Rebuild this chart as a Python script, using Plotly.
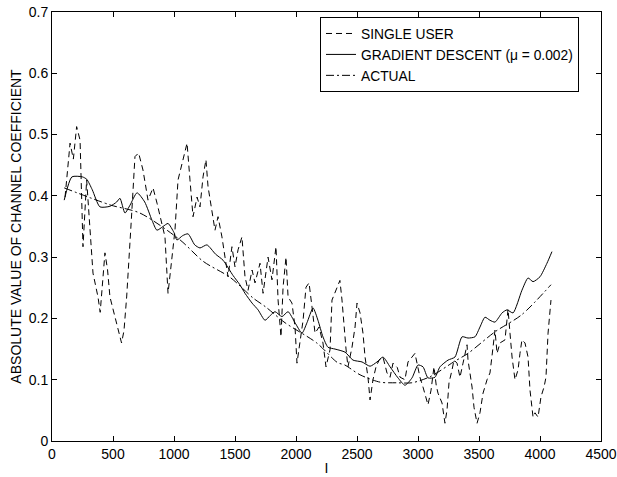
import plotly.graph_objects as go

# SINGLE USER (dashed)
single_x = [107,148,175,202,230,254,284,310,336,377,395,434,455,475,520,570,590,612,650,680,710,746,787,828,861,885,926,951,984,1008,1033,1066,1107,1131,1156,1189,1213,1238,1262,1279,1311,1336,1361,1393,1418,1443,1475,1500,1525,1557,1582,1607,1640,1664,1705,1730,1771,1803,1836,1853,1877,1894,1918,1935,1967,1992,2008,2033,2058,2082,2107,2131,2156,2189,2221,2246,2279,2295,2336,2360,2377,2393,2410,2426,2459,2484,2500,2525,2549,2566,2590,2607,2631,2656,2681,2713,2746,2771,2795,2830,2853,2893,2918,2951,2975,2992,3016,3041,3057,3082,3107,3131,3150,3164,3197,3221,3238,3254,3279,3295,3320,3344,3369,3402,3410,3443,3459,3484,3508,3533,3566,3590,3615,3631,3648,3672,3713,3738,3754,3771,3795,3820,3836,3852,3877,3902,3918,3943,3959,3984,4008,4033,4049,4066,4090]
single_y = [0.398,0.486,0.46,0.513,0.491,0.317,0.426,0.35,0.274,0.235,0.21,0.307,0.28,0.235,0.20,0.16,0.18,0.235,0.36,0.464,0.47,0.442,0.393,0.413,0.388,0.366,0.333,0.241,0.300,0.344,0.426,0.454,0.486,0.426,0.366,0.398,0.382,0.431,0.459,0.415,0.377,0.344,0.366,0.333,0.300,0.268,0.317,0.284,0.312,0.333,0.268,0.246,0.279,0.258,0.290,0.241,0.300,0.263,0.317,0.230,0.170,0.251,0.300,0.235,0.225,0.186,0.127,0.165,0.197,0.251,0.258,0.219,0.176,0.186,0.160,0.121,0.149,0.230,0.251,0.262,0.230,0.186,0.150,0.121,0.153,0.186,0.225,0.209,0.176,0.137,0.104,0.067,0.100,0.121,0.132,0.137,0.111,0.104,0.127,0.120,0.104,0.100,0.129,0.137,0.143,0.127,0.104,0.088,0.078,0.059,0.083,0.121,0.090,0.078,0.062,0.029,0.051,0.095,0.116,0.132,0.127,0.104,0.127,0.157,0.132,0.088,0.055,0.029,0.046,0.078,0.100,0.111,0.153,0.181,0.143,0.160,0.165,0.215,0.176,0.137,0.100,0.116,0.143,0.165,0.160,0.137,0.083,0.039,0.046,0.039,0.072,0.088,0.104,0.176,0.230]

# GRADIENT DESCENT (solid)
gd_x = [100,163,249,285,330,393,475,530,557,598,640,697,760,820,860,910,951,1000,1024,1070,1115,1170,1213,1270,1340,1402,1484,1540,1582,1640,1689,1746,1790,1828,1885,1935,1992,2049,2090,2140,2180,2221,2262,2320,2402,2467,2541,2607,2664,2713,2771,2836,2893,2951,3000,3041,3082,3139,3180,3246,3303,3361,3410,3467,3508,3549,3590,3631,3689,3730,3779,3852,3902,3943,4000,4057,4098]
gd_y = [0.393,0.431,0.431,0.427,0.41,0.382,0.383,0.39,0.396,0.372,0.385,0.405,0.39,0.36,0.344,0.35,0.355,0.34,0.328,0.335,0.338,0.32,0.315,0.320,0.305,0.295,0.270,0.255,0.241,0.225,0.214,0.197,0.205,0.211,0.203,0.211,0.193,0.176,0.193,0.217,0.197,0.170,0.153,0.150,0.145,0.132,0.129,0.122,0.129,0.137,0.121,0.103,0.091,0.103,0.124,0.121,0.103,0.104,0.121,0.132,0.137,0.170,0.168,0.170,0.186,0.202,0.197,0.194,0.209,0.214,0.209,0.246,0.266,0.260,0.268,0.290,0.309]

# ACTUAL (dash-dot)
act_x = [100,480,720,1050,1240,1460,1650,1750,1910,2170,2340,2400,2525,2690,2830,2950,3100,3300,3410,3630,3850,4090]
act_y = [0.413,0.385,0.372,0.328,0.293,0.267,0.233,0.219,0.193,0.160,0.128,0.124,0.108,0.096,0.095,0.095,0.105,0.130,0.143,0.178,0.206,0.255]

x_ticks = [0,500,1000,1500,2000,2500,3000,3500,4000,4500]
y_ticks = [0,0.1,0.2,0.3,0.4,0.5,0.6,0.7]

fig = go.Figure()
fig.add_trace(go.Scatter(x=single_x, y=single_y, mode="lines", name="SINGLE USER",
                         line=dict(color="black", width=1, dash="6px,4px")))
fig.add_trace(go.Scatter(x=gd_x, y=gd_y, mode="lines", name="GRADIENT DESCENT (\u03bc = 0.002)",
                         line=dict(color="black", width=1, shape="spline", smoothing=0.6)))
fig.add_trace(go.Scatter(x=act_x, y=act_y, mode="lines", name="ACTUAL",
                         line=dict(color="black", width=1, dash="8px,3px,2px,3px", shape="spline", smoothing=0.8)))

fam = "Arial, Liberation Sans, sans-serif"
tickfont = dict(family=fam, size=14, color="black")
titlefont = dict(family=fam, size=14, color="black")
fig.update_layout(
    width=617, height=477,
    margin=dict(l=52, r=16, t=12, b=36),
    paper_bgcolor="white", plot_bgcolor="white",
    font=dict(family=fam, size=13, color="black"),
    showlegend=True,
    legend=dict(x=(320-52)/549, xanchor="left", y=1 - 5/429, yanchor="top",
                bordercolor="black", borderwidth=1, bgcolor="white",
                font=dict(family=fam, size=13.8, color="black"),
                tracegroupgap=0, itemwidth=30),
)
fig.update_xaxes(range=[0,4500], tickvals=x_ticks, ticktext=[str(v) for v in x_ticks],
                 showgrid=False, zeroline=False, showline=True, linecolor="black", linewidth=1,
                 mirror="ticks", ticks="inside", ticklen=5, tickcolor="black", automargin=False,
                 title=dict(text="I", standoff=2, font=titlefont), tickfont=tickfont)
fig.update_yaxes(range=[0,0.7], tickvals=y_ticks, ticktext=["0","0.1","0.2","0.3","0.4","0.5","0.6","0.7"],
                 showgrid=False, zeroline=False, showline=True, linecolor="black", linewidth=1,
                 mirror="ticks", ticks="inside", ticklen=5, tickcolor="black", automargin=False,
                 title=dict(text="ABSOLUTE VALUE OF CHANNEL COEFFICIENT", standoff=3, font=titlefont),
                 tickfont=tickfont)

fig.write_html("out.html")
